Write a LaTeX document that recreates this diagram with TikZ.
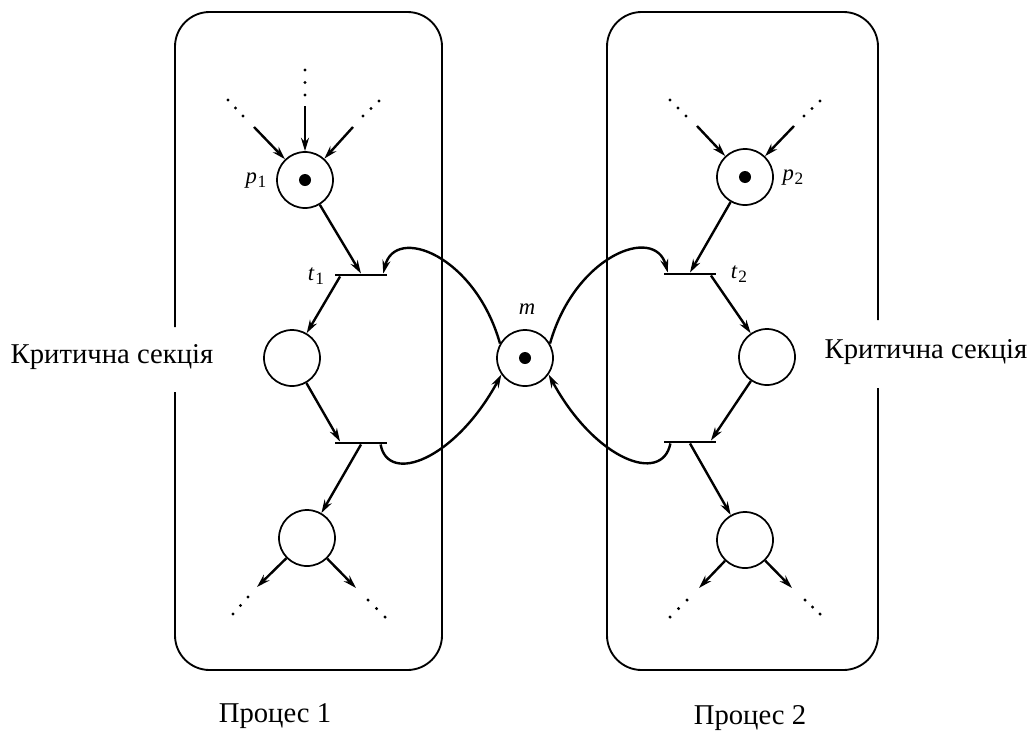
\documentclass[tikz,border=0pt]{standalone}
\usepackage{fontspec}
\setmainfont{Liberation Serif}
\usetikzlibrary{arrows.meta,calc}

% italic symbol with a lowered index, e.g. \symidx{p}{1}
\newcommand{\symidx}[2]{\textit{#1}\kern0.5pt\raisebox{-0.35ex}{\fontsize{13}{14}\selectfont #2}}
% three dots evenly spread from #1 to #2
\newcommand{\dotrow}[2]{\foreach \q in {0,0.5,1}{\fill ($#1!\q!#2$) circle[radius=1.3pt];}}

\begin{document}
\begin{tikzpicture}[x=0.75pt,y=-0.75pt,
  place/.style={circle,draw,line width=1.3pt,minimum size=42pt,inner sep=0pt},
  bar/.style={rectangle,fill=black,minimum width=39pt,minimum height=1.8pt,inner sep=0pt},
  arc/.style={line width=1.8pt,-{Stealth[length=10pt,width=6pt]}},
  frame/.style={line width=1.4pt,rounded corners=26pt},
  lbl/.style={font=\fontsize{21.5}{25}\selectfont,inner sep=0pt},
  sym/.style={font=\fontsize{17}{19}\selectfont,inner sep=0pt},
  token/.style={fill=black},
]
\useasboundingbox (0,0) rectangle (1034,732);

% process frames, each with a gap for its side label
\draw[frame] (175,392) -- (175,670) -- (442,670) -- (442,12) -- (175,12) -- (175,327);
\draw[frame] (878,388) -- (878,670) -- (607,670) -- (607,12) -- (878,12) -- (878,320);

% places
\node[place] (p1) at (305,180) {};
\node[place] (c1) at (292,358) {};
\node[place] (b1) at (307,538) {};
\node[place] (m)  at (525,358) {};
\node[place] (p2) at (745,177) {};
\node[place] (c2) at (767,357) {};
\node[place] (b2) at (745,540) {};

% tokens
\fill[token] (p1) circle[radius=4.5pt];
\fill[token] (m)  circle[radius=4.5pt];
\fill[token] (p2) circle[radius=4.5pt];

% transitions
\node[bar] (t1) at (361,275) {};
\node[bar] (t3) at (361,443) {};
\node[bar] (t2) at (690,274) {};
\node[bar] (t4) at (690,442) {};

% labels
\node[sym] (p1lab) at (256,181) {\symidx{p}{1}};
\node[sym] (p2lab) at (793,178) {\symidx{p}{2}};
\node[sym] (t1lab) at (316,276) {\symidx{t}{1}};
\node[sym] (t2lab) at (739,274) {\symidx{t}{2}};
\node[sym] (mlab)  at (527,309) {\textit{m}};
\node[lbl] (cs1) at (112,357) {Критична секція};
\node[lbl] (cs2) at (926,352) {Критична секція};
\node[lbl] (pr1) at (275,716) {Процес 1};
\node[lbl] (pr2) at (750,718) {Процес 2};

% incoming arcs of p1
\coordinate (p1v) at (305,106);
\coordinate (p1l) at (254,127);
\coordinate (p1r) at (353,127);
\dotrow{(305,70)}{(305,95)}
\dotrow{(228,100)}{(243,116)}
\dotrow{(379,101)}{(363,116)}
\draw[arc] (p1v) -- (p1);
\draw[arc] (p1l) -- (p1);
\draw[arc] (p1r) -- (p1);

% incoming arcs of p2
\coordinate (p2l) at (697,126);
\coordinate (p2r) at (794,126);
\dotrow{(670,100)}{(686,116)}
\dotrow{(820,101)}{(804,116)}
\draw[arc] (p2l) -- (p2);
\draw[arc] (p2r) -- (p2);

% process 1 chain
\draw[arc] (p1) -- (t1.north);
\draw[arc] ([xshift=4pt]t1.south west) -- (c1);
\draw[arc] (c1) -- ([xshift=4pt]t3.north west);
\draw[arc] (t3.south) -- (b1);

% process 2 chain
\draw[arc] (p2) -- (t2.north);
\draw[arc] ([xshift=-4pt]t2.south east) -- (c2);
\draw[arc] (c2) -- ([xshift=-4pt]t4.north east);
\draw[arc] (t4.south) -- (b2);

% outgoing arcs of the last places
\coordinate (b1l) at (257,587);
\coordinate (b1r) at (356,588);
\draw[arc] (b1) -- (b1l);
\draw[arc] (b1) -- (b1r);
\dotrow{(248,597)}{(233,614)}
\dotrow{(368,600)}{(385,617)}
\coordinate (b2l) at (699,588);
\coordinate (b2r) at (792,588);
\draw[arc] (b2) -- (b2l);
\draw[arc] (b2) -- (b2r);
\dotrow{(687,600)}{(670,617)}
\dotrow{(805,600)}{(820,614)}

% mutex place m
\draw[arc] (m.150) .. controls (475,255) and (395,225) .. ([xshift=-3pt]t1.north east);
\draw[arc] ([xshift=-5pt]t3.south east) .. controls (388,485) and (455,460) .. (m.215);
\draw[arc] (m.30) .. controls (575,255) and (655,225) .. ([xshift=3pt]t2.north west);
\draw[arc] ([xshift=5pt]t4.south west) .. controls (662,485) and (595,460) .. (m.325);
\end{tikzpicture}
\end{document}
